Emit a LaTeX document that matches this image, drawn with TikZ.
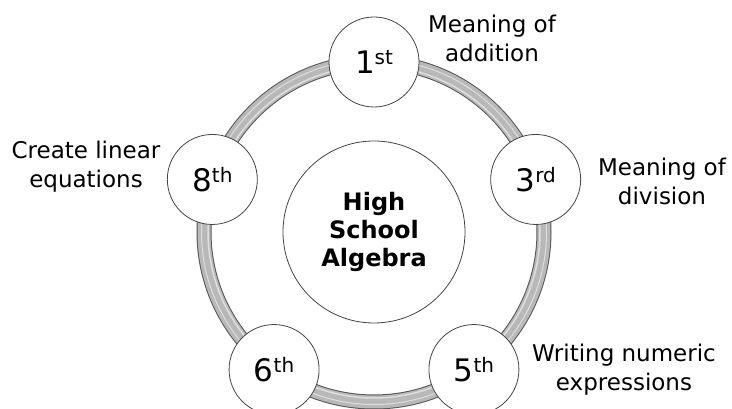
\documentclass[tikz,border=0pt]{standalone}
\usepackage{fontspec}
\setmainfont{DejaVu Sans}
\usetikzlibrary{positioning, calc}
\definecolor{ringdark}{HTML}{555555}
\definecolor{ringfill}{HTML}{B8B8B8}
\definecolor{ringlight}{HTML}{DEDEDE}
\definecolor{edgegray}{HTML}{444444}

\newcommand{\gradetext}[2]{{\fontsize{31}{31}\selectfont #1}{\fontsize{20}{20}\selectfont\raisebox{9pt}{#2}}}

\begin{document}
\begin{tikzpicture}[x=1pt, y=1pt,
    gradebox/.style={draw=edgegray, fill=white, circle, line width=0.8pt, minimum size=90pt, inner sep=0pt},
    topic/.style={align=center, font=\fontsize{23}{29}\selectfont}]
        \useasboundingbox (0,0) rectangle (732,409);
        \coordinate (c) at (374,177);
        % ring behind the grades
        \draw[ringdark, line width=15pt] (c) circle (170pt);
        \draw[ringfill, line width=13pt] (c) circle (170pt);
        \draw[ringlight, line width=1.5pt] (c) circle (166pt);
        \draw[ringlight, line width=1pt] (c) circle (172.5pt);
        \node[draw=edgegray, fill=white, circle, line width=0.8pt, minimum size=182pt,
              align=center, font=\bfseries\fontsize{24}{28}\selectfont] (hub) at (c) {High\\School\\Algebra};
        \node[gradebox] (g1) at ($(c)+(90:170)$) {\gradetext{1}{st}};
        \node[gradebox] (g3) at ($(c)+(18:170)$) {\gradetext{3}{rd}};
        \node[gradebox] (g5) at ($(c)+(-54:170)$) {\gradetext{5}{th}};
        \node[gradebox] (g6) at ($(c)+(234:170)$) {\gradetext{6}{th}};
        \node[gradebox] (g8) at ($(c)+(162:170)$) {\gradetext{8}{th}};
        % topics
        \node[topic] (t1) at (492,371) {Meaning of\\addition};
        \node[topic] (t3) at (662,228) {Meaning of\\division};
        \node[topic] (t5) at (624,39) {Writing numeric\\expressions};
        \node[topic] (t8) at (86,242) {Create linear\\equations};
      \end{tikzpicture}
\end{document}
